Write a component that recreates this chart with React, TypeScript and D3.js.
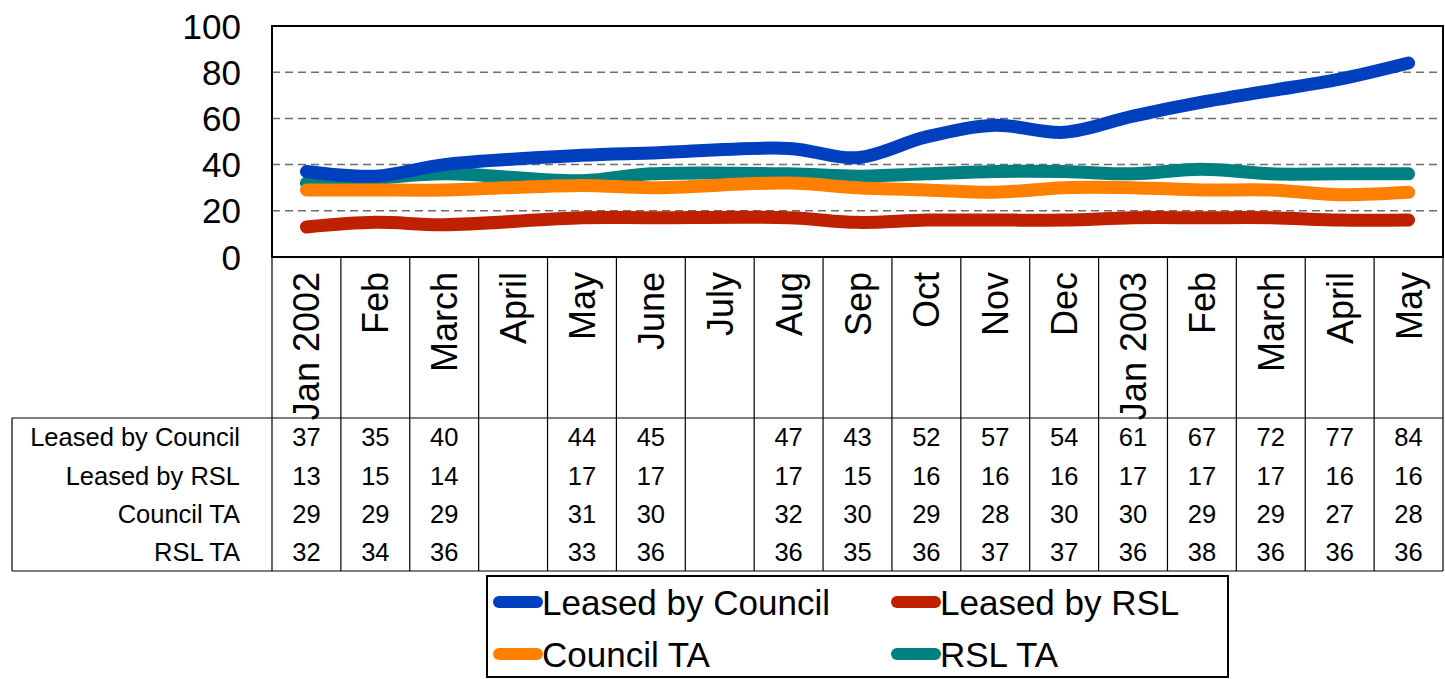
import React from 'react';
import * as d3 from 'd3';

const months = ['Jan 2002', 'Feb', 'March', 'April', 'May', 'June', 'July', 'Aug', 'Sep', 'Oct', 'Nov', 'Dec', 'Jan 2003', 'Feb', 'March', 'April', 'May'];

const leasedByCouncil = [37, 35, 40, null, 44, 45, null, 47, 43, 52, 57, 54, 61, 67, 72, 77, 84];
const leasedByRSL = [13, 15, 14, null, 17, 17, null, 17, 15, 16, 16, 16, 17, 17, 17, 16, 16];
const councilTA = [29, 29, 29, null, 31, 30, null, 32, 30, 29, 28, 30, 30, 29, 29, 27, 28];
const rslTA = [32, 34, 36, null, 33, 36, null, 36, 35, 36, 37, 37, 36, 38, 36, 36, 36];

const yTicks = [0, 20, 40, 60, 80, 100];

const series = [
  { name: 'Leased by Council', values: leasedByCouncil, color: '#0040BF' },
  { name: 'Leased by RSL', values: leasedByRSL, color: '#BF2000' },
  { name: 'Council TA', values: councilTA, color: '#FF8000' },
  { name: 'RSL TA', values: rslTA, color: '#008080' },
];

const FONT = '"Liberation Sans", Arial, sans-serif';

export default function App() {
  const W = 1445;
  const H = 679;
  const left = 272;
  const right = 1443;
  const top = 26;
  const bottom = 257;
  const tableTop = 418;
  const tableBottom = 571;
  const tableLeft = 12;

  const x = d3.scaleBand<number>().domain(d3.range(months.length)).range([left, right]);
  const y = d3.scaleLinear().domain([0, 100]).range([bottom, top]);
  const cx = (i: number) => (x(i) as number) + x.bandwidth() / 2;

  const rowY = d3.scaleBand<number>().domain(d3.range(series.length)).range([tableTop, tableBottom]);

  const line = d3
    .line<{ i: number; v: number }>()
    .x((d) => cx(d.i))
    .y((d) => y(d.v))
    .curve(d3.curveCatmullRom.alpha(0.5));

  const borders = d3.range(months.length + 1).map((i) => (i < months.length ? (x(i) as number) : right));

  return (
    <svg width={W} height={H} style={{ position: 'absolute', left: 0, top: 0, background: '#fff' }} fontFamily={FONT}>
      {/* gridlines */}
      {yTicks.filter((t) => t > 0 && t < 100).map((t) => (
        <line key={t} x1={left} x2={right} y1={y(t)} y2={y(t)} stroke="#6e6e6e" strokeWidth={1.5} strokeDasharray="8 5" />
      ))}
      {/* y tick labels */}
      {yTicks.map((t) => (
        <text key={t} x={241} y={y(t)} dy="0.36em" textAnchor="end" fontSize={35} fill="#000">
          {t}
        </text>
      ))}

      {/* series lines, teal drawn first */}
      {[...series].reverse().map((s) => {
        const pts = s.values.map((v, i) => ({ i, v })).filter((d) => d.v != null) as { i: number; v: number }[];
        return (
          <path key={s.name} d={line(pts) || ''} fill="none" stroke={s.color} strokeWidth={13} strokeLinecap="round" strokeLinejoin="round" />
        );
      })}

      {/* plot frame */}
      <rect x={left} y={top} width={right - left} height={bottom - top} fill="none" stroke="#000" strokeWidth={2} />

      {/* category columns */}
      {borders.map((bx, i) => (
        <line key={i} x1={bx} x2={bx} y1={bottom} y2={tableBottom} stroke="#000" strokeWidth={1.2} />
      ))}
      {months.map((m, i) => (
        <text key={i} transform={`translate(${cx(i) + 13},${272}) rotate(-90)`} textAnchor="end" fontSize={36} fill="#000">
          {m}
        </text>
      ))}

      {/* data table */}
      <line x1={tableLeft} x2={right} y1={tableTop} y2={tableTop} stroke="#000" strokeWidth={1.2} />
      <line x1={tableLeft} x2={right} y1={tableBottom} y2={tableBottom} stroke="#000" strokeWidth={1.2} />
      <line x1={tableLeft} x2={tableLeft} y1={tableTop} y2={tableBottom} stroke="#000" strokeWidth={1.2} />
      {series.map((s, r) => {
        const ry = (rowY(r) as number) + rowY.bandwidth() / 2;
        return (
          <g key={s.name}>
            <text x={240} y={ry} dy="0.36em" textAnchor="end" fontSize={25.5} fill="#000">
              {s.name}
            </text>
            {s.values.map((v, i) =>
              v == null ? null : (
                <text key={i} x={cx(i)} y={ry} dy="0.36em" textAnchor="middle" fontSize={25.5} fill="#000">
                  {v}
                </text>
              )
            )}
          </g>
        );
      })}

      {/* legend */}
      <rect x={487} y={576} width={741} height={101} fill="#fff" stroke="#000" strokeWidth={2} />
      {series.map((s, k) => {
        const lx = k % 2 === 0 ? 499 : 897;
        const ly = k < 2 ? 602 : 654;
        return (
          <g key={s.name}>
            <line x1={lx} x2={lx + 38} y1={ly} y2={ly} stroke={s.color} strokeWidth={12} strokeLinecap="round" />
            <text x={lx + 43} y={ly} dy="0.36em" fontSize={35} fill="#000">
              {s.name}
            </text>
          </g>
        );
      })}
    </svg>
  );
}
